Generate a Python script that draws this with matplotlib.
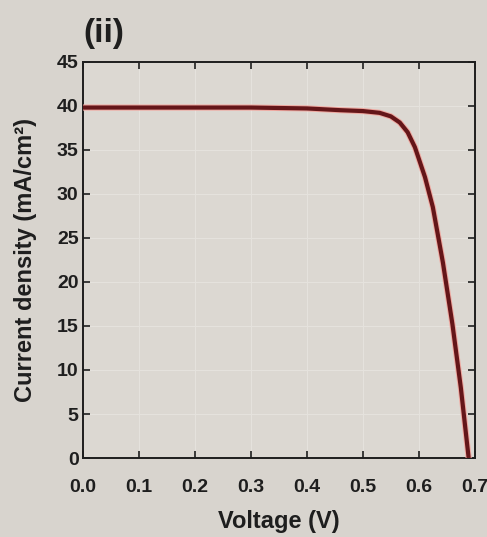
import numpy as np
import matplotlib
matplotlib.use('Agg')
import matplotlib.pyplot as plt

# J-V curve
voltage = [0.0, 0.1, 0.2, 0.3, 0.4, 0.46, 0.50, 0.53, 0.55, 0.566, 0.58, 0.593,
           0.611, 0.625, 0.643, 0.66, 0.675, 0.689]
current = [39.8, 39.8, 39.8, 39.8, 39.7, 39.5, 39.4, 39.2, 38.8, 38.1, 37.0, 35.3,
           31.9, 28.5, 22.2, 15.2, 8.0, 0.0]
xticks = [0.0, 0.1, 0.2, 0.3, 0.4, 0.5, 0.6, 0.7]
yticks = [0, 5, 10, 15, 20, 25, 30, 35, 40, 45]

plt.rcParams['font.family'] = ['Liberation Sans', 'DejaVu Sans']
plt.rcParams['font.weight'] = 'bold'

bg = '#d8d4ce'
fig = plt.figure(figsize=(4.87, 5.37), dpi=100, facecolor=bg)
ax = fig.add_axes([0.170, 0.147, 0.805, 0.738], facecolor='#dcd8d2')

ax.plot(voltage, current, color='#f0a8a0', lw=4.4, solid_capstyle='round', zorder=3)
ax.plot(voltage, current, color='#641619', lw=3.0, solid_capstyle='round', zorder=4)

ax.set_xlim(0, 0.7)
ax.set_ylim(0, 45)
ax.set_xticks(xticks)
ax.set_yticks(yticks)
ax.set_xticklabels([f'{v:.1f}' for v in xticks])
ax.grid(True, color='#e6e3de', lw=0.7)
ax.set_axisbelow(True)
ax.tick_params(direction='in', top=True, right=True, length=5, width=1.2,
               labelsize=14, colors='#1e1e1e')
ax.tick_params(axis='x', pad=15)
ax.tick_params(axis='y', pad=3)
for sp in ax.spines.values():
    sp.set_linewidth(1.4)
    sp.set_color('#1e1e1e')

ax.set_xlabel('Voltage (V)', fontsize=17, fontweight='bold', color='#1e1e1e', labelpad=10)
ax.set_ylabel('Current density (mA/cm²)', fontsize=17, fontweight='bold', color='#1e1e1e', labelpad=14)
fig.text(0.172, 0.922, '(ii)', fontsize=24, fontweight='bold', color='#1e1e1e')

fig.savefig('out.png', dpi=100, facecolor=bg)
